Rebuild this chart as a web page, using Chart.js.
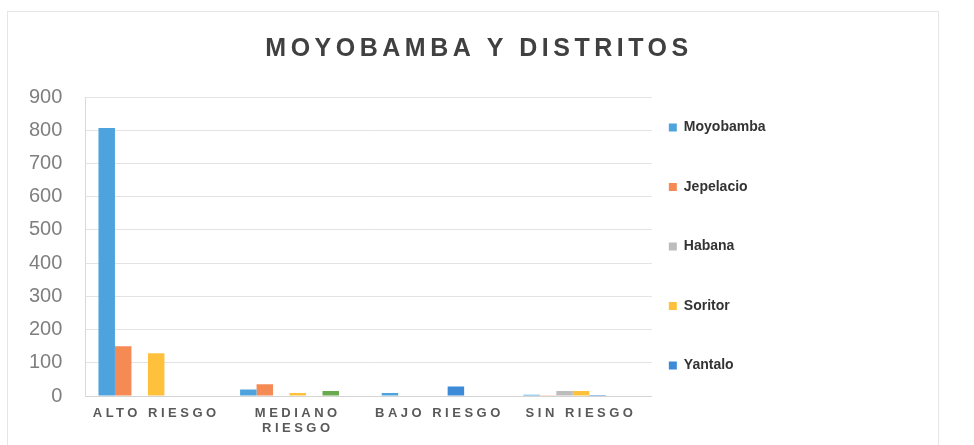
<!DOCTYPE html>
<html>
<head>
<meta charset="utf-8">
<script src="https://cdn.jsdelivr.net/npm/chart.js@4.4.1/dist/chart.umd.min.js"></script>
<style>
    html, body { margin: 0; padding: 0; background: #fff; }
    #frame { position: absolute; left: 7px; top: 11px; width: 930px; height: 440px; border: 1px solid #e6e6e6; }
    #wrap { position: absolute; left: 0; top: 0; width: 974px; height: 445px; }
</style>
</head>
<body>
<div id="frame"></div>
<div id="wrap"><canvas id="riesgo-chart" width="974" height="445"></canvas></div>
<script>
const categorias = ['ALTO RIESGO', ['MEDIANO', 'RIESGO'], 'BAJO RIESGO', 'SIN RIESGO'];

const moyobamba = [807, 20, 9, 4];
const jepelacio = [150, 36, 0, 1];
const habana    = [0, 2, 0, 15];
const soritor   = [129, 9, 0, 15];
const yantalo   = [0, 0, 29, 3];
const calzada   = [0, 15, 2, 2];
const otros     = [0, 0, 0, 0];

const yTicks = { min: 0, max: 900, step: 100 };

// applies canvas letter spacing to one drawing method of a chart element
function spaced(obj, method, gap) {
    if (!obj || obj[method].spaced) return;
    const orig = obj[method];
    const wrapped = function (...args) {
        this.ctx.save();
        this.ctx.letterSpacing = gap;
        orig.apply(this, args);
        this.ctx.restore();
    };
    wrapped.spaced = true;
    obj[method] = wrapped;
}

const ajustes = {
    id: 'ajustes',
    afterLayout(chart) {
        const area = chart.chartArea;
        const title = chart.titleBlock;
        title.left = 0;
        title.right = 958;

        const lg = chart.legend;
        const pad = lg.options.labels.padding;
        const span = lg.columnSizes[0].height - pad;
        const dy = (area.top + area.bottom - span) / 2 - (lg.top + pad);
        const dx = (area.right + 17) - (lg.left + pad);
        lg.top += dy; lg.bottom += dy;
        lg.left += dx; lg.right += dx;
    },
    beforeDraw(chart) {
        spaced(chart.titleBlock, 'draw', '4.5px');
        spaced(chart.scales.x, 'drawLabels', '3.5px');
    }
};

const ctx = document.getElementById('riesgo-chart');

const serie = (label, data, color) => ({
    label: label,
    data: data,
    backgroundColor: color,
    borderWidth: 0,
    barPercentage: 1,
    categoryPercentage: 0.815
});

new Chart(ctx, {
    type: 'bar',
    data: {
        labels: categorias,
        datasets: [
            serie('Moyobamba', moyobamba, '#4ea3de'),
            serie('Jepelacio', jepelacio, '#f68a55'),
            serie('Habana', habana, '#bdbdbd'),
            serie('Soritor', soritor, '#ffc13c'),
            serie('Yantalo', yantalo, '#3d8ad9'),
            serie('Calzada', calzada, '#69aa4e'),
            serie('', otros, '#2c6aa8')
        ]
    },
    options: {
        responsive: false,
        animation: false,
        layout: { padding: { left: 6, right: 170, top: 0, bottom: 7 } },
        plugins: {
            title: {
                display: true,
                text: 'MOYOBAMBA Y DISTRITOS',
                color: '#404040',
                font: { family: 'Liberation Sans', size: 25, weight: 'bold', lineHeight: 1.2 },
                padding: { top: 34, bottom: 33 }
            },
            legend: {
                position: 'right',
                align: 'start',
                labels: {
                    boxWidth: 8,
                    boxHeight: 8,
                    padding: 45.5,
                    color: '#333333',
                    font: { family: 'Liberation Sans', size: 14, weight: 'bold' },
                    filter: (item) => item.datasetIndex < 5
                }
            },
            tooltip: { enabled: false }
        },
        scales: {
            x: {
                grid: { display: false },
                border: { color: '#d4d4d4' },
                ticks: {
                    color: '#595959',
                    padding: 2,
                    maxRotation: 0,
                    autoSkip: false,
                    font: { family: 'Liberation Sans', size: 13, weight: 'bold', lineHeight: 1.15 }
                }
            },
            y: {
                min: yTicks.min,
                max: yTicks.max,
                grid: { color: '#e3e3e3', drawTicks: false },
                border: { color: '#dadada' },
                ticks: {
                    stepSize: yTicks.step,
                    color: '#7f7f7f',
                    padding: 23,
                    font: { family: 'Liberation Sans', size: 20 }
                }
            }
        }
    },
    plugins: [ajustes]
});
</script>
</body>
</html>
